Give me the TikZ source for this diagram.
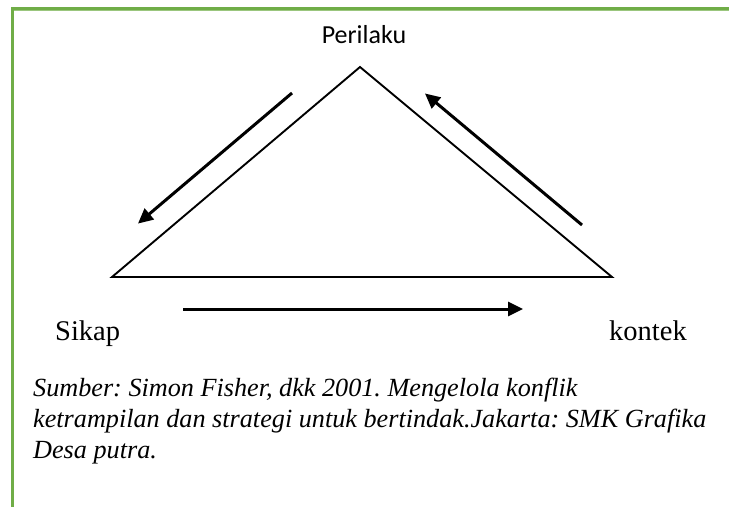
\documentclass[tikz,border=0pt]{standalone}
\usepackage{fontspec}
\setmainfont{Liberation Serif}
\newfontfamily\calibri{Carlito}
\usetikzlibrary{arrows.meta}
\definecolor{vert}{RGB}{112,173,71}
\frenchspacing
\tikzstyle{cote} = [line width=1.9pt, line join=miter]
\tikzstyle{fleche} = [line width=3pt, -{Triangle[length=15pt,width=14pt]}, shorten >=-4pt]
\tikzstyle{texte} = [inner sep=0pt, anchor=base west, font=\fontsize{28.5}{31}\selectfont]

\begin{document}
\begin{tikzpicture}[x=1pt, y=-1pt]

        \useasboundingbox (0,0) rectangle (729,507);
        \fill[vert] (11,7) rectangle (729,10);
        \fill[vert] (11,7) rectangle (14,507);
        \fill[vert!70!white] (14,10) rectangle (729,11);

        \coordinate (P) at (360,67);
        \coordinate (S) at (112,277);
        \coordinate (K) at (612,277);
        \draw[cote] (P) -- (S) -- (K) -- cycle;

        \node (lP) [inner sep=0pt, anchor=base, font=\calibri\fontsize{26}{30}\selectfont] at (364,43) {Perilaku};
        \node (lS) [texte] at (55,340) {Sikap};
        \node (lK) [texte] at (609,340) {kontek};

        \coordinate (A1) at (292,93);
        \coordinate (B1) at (141,221);
        \coordinate (A2) at (582,225);
        \coordinate (B2) at (428,96);
        \coordinate (A3) at (183,309);
        \coordinate (B3) at (519,309);
        \draw[fleche] (A1) -- (B1);
        \draw[fleche] (A2) -- (B2);
        \draw[fleche] (A3) -- (B3);

        \node (src) [inner sep=0pt, anchor=north west, align=left, font=\itshape\fontsize{26.2}{31}\selectfont] at (33,378) {Sumber: Simon Fisher, dkk 2001. Mengelola konflik\\
            ketrampilan dan strategi untuk bertindak.Jakarta: SMK Grafika\\
            Desa putra.};

    \end{tikzpicture}
\end{document}
